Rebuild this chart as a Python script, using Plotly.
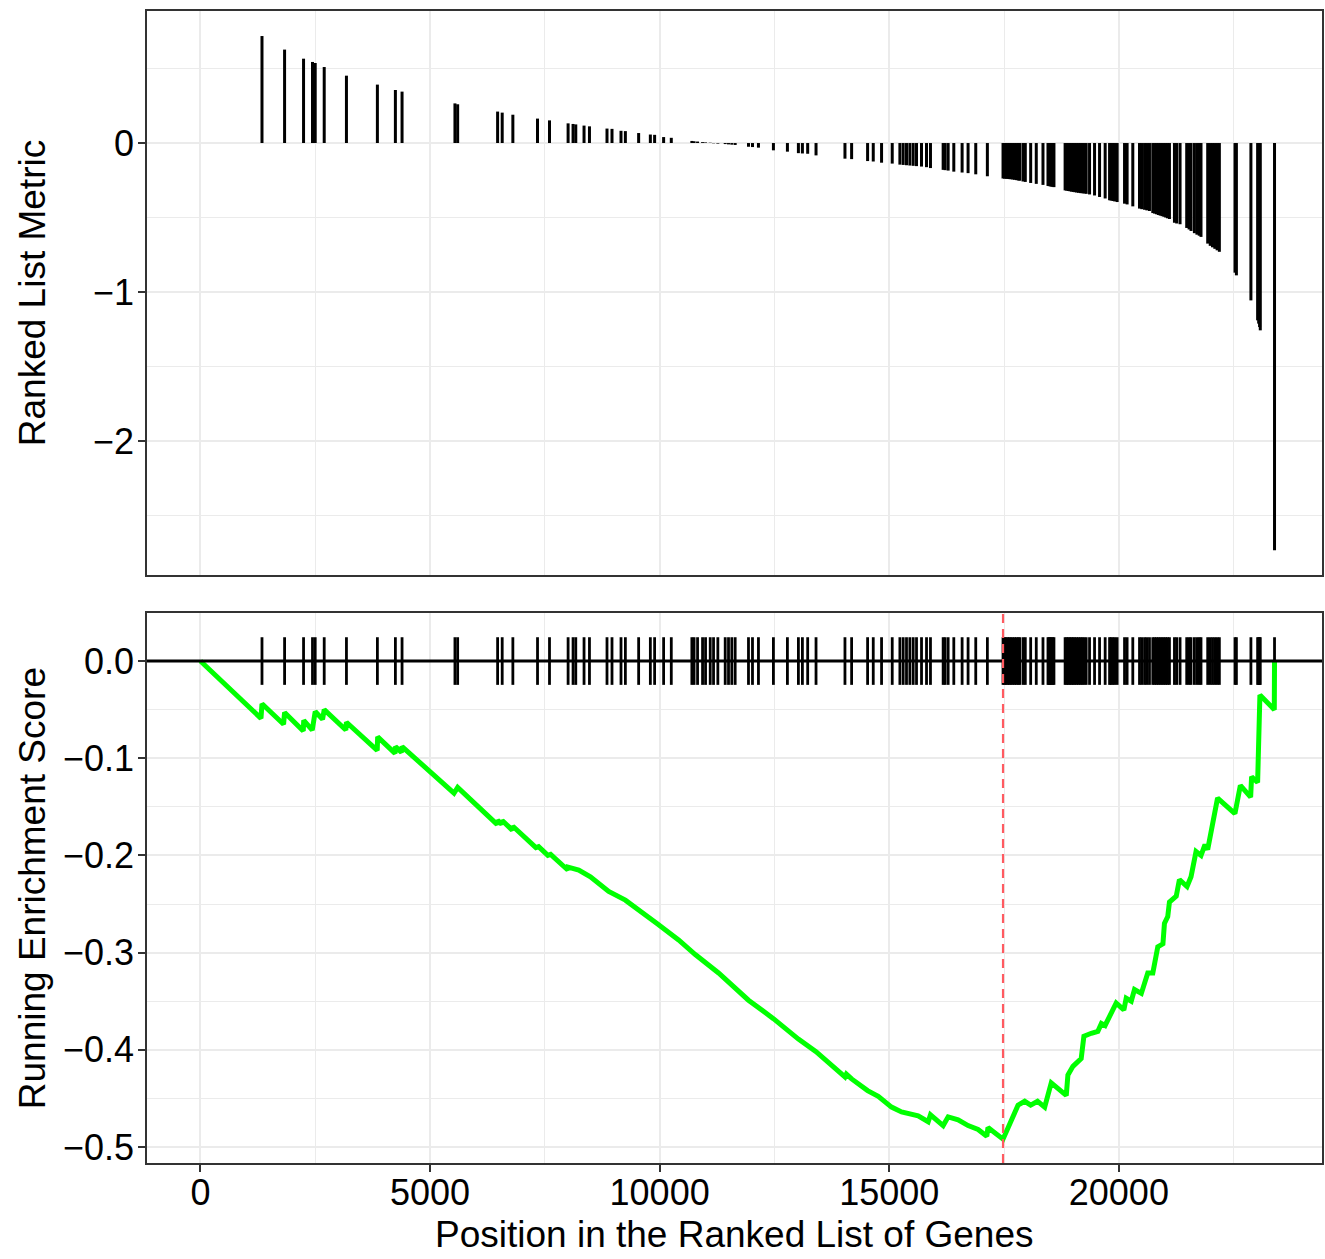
import plotly.graph_objects as go

# ---------------- data ----------------
hit_rank = [
    1341, 1833, 2246, 2441, 2500, 2696, 3180, 3854, 4246, 4391,
    5543, 5602, 6472, 6572, 6804, 7341, 7602, 8007, 8115, 8174,
    8354, 8472, 8854, 8963, 9159, 9254, 9543, 9798, 9891, 10087,
    10254, 10702, 10750, 10826, 10935, 11000, 11102, 11174, 11268, 11428,
    11500, 11572, 11645, 11935, 12022, 12152, 12478, 12783, 13022, 13109,
    13224, 13406, 14036, 14181, 14529, 14652, 14833, 15065, 15232, 15304,
    15376, 15449, 15522, 15594, 15703, 15812, 15898, 16174, 16217, 16283,
    16406, 16587, 16717, 16884, 17137,
    17478, 17510, 17545, 17580, 17615, 17650, 17690, 17730, 17770, 17810, 17841,
    17913, 17963, 18080, 18202, 18348,
    18457, 18480, 18505, 18530, 18560, 18587,
    18830, 18865, 18900, 18935, 18970, 19005, 19040, 19080, 19120, 19160, 19200, 19240, 19289,
    19362, 19471, 19580, 19702,
    19798, 19830, 19870, 19910, 19963,
    20124, 20180, 20304,
    20450, 20500, 20560, 20610, 20667,
    20739, 20780, 20820, 20860, 20900, 20940, 20980, 21020, 21060, 21102,
    21211, 21260, 21333,
    21478, 21530, 21572,
    21645, 21700, 21750, 21789,
    21935, 21990, 22040, 22090, 22140, 22189,
    22530, 22560,
    22876,
    23022, 23045, 23065, 23080,
    23390,
]
hit_metric = [
    0.718, 0.627, 0.566, 0.544, 0.537, 0.510, 0.452, 0.392, 0.356, 0.345,
    0.266, 0.260, 0.211, 0.204, 0.190, 0.164, 0.152, 0.132, 0.128, 0.125,
    0.117, 0.112, 0.097, 0.095, 0.082, 0.080, 0.067, 0.057, 0.055, 0.040,
    0.035, 0.014, 0.012, 0.010, 0.006, 0.004, 0.002, -0.002, -0.004, -0.007,
    -0.009, -0.011, -0.013, -0.025, -0.027, -0.031, -0.049, -0.058, -0.068, -0.070,
    -0.072, -0.083, -0.105, -0.108, -0.121, -0.124, -0.132, -0.138, -0.145, -0.147,
    -0.149, -0.151, -0.153, -0.155, -0.158, -0.162, -0.168, -0.180, -0.182, -0.185,
    -0.192, -0.198, -0.202, -0.210, -0.223,
    -0.238, -0.239, -0.240, -0.241, -0.242, -0.243, -0.245, -0.247, -0.249, -0.251, -0.253,
    -0.258, -0.261, -0.268, -0.274, -0.281,
    -0.288, -0.289, -0.291, -0.292, -0.294, -0.296,
    -0.318, -0.320, -0.322, -0.324, -0.326, -0.328, -0.330, -0.332, -0.334, -0.336, -0.337, -0.339, -0.341,
    -0.345, -0.352, -0.362, -0.372,
    -0.384, -0.386, -0.389, -0.392, -0.396,
    -0.407, -0.412, -0.425,
    -0.440, -0.444, -0.448, -0.452, -0.456,
    -0.470, -0.474, -0.478, -0.483, -0.487, -0.491, -0.495, -0.500, -0.505, -0.510,
    -0.535, -0.540, -0.545,
    -0.570, -0.580, -0.590,
    -0.605, -0.615, -0.622, -0.630,
    -0.675, -0.690, -0.700, -0.710, -0.720, -0.730,
    -0.870, -0.888,
    -1.056,
    -1.190, -1.212, -1.235, -1.257,
    -2.733,
]

es_rank = [
    0, 1319, 1341, 1811, 1833, 2240, 2250, 2435, 2500, 2660,
    2696, 3167, 3180, 3850, 3860, 4239, 4246, 4380, 4391, 5522,
    5602, 6460, 6472, 6560, 6572, 6790, 6804, 7330, 7341, 7590,
    7602, 8000, 8007, 8239, 8493, 8891, 9254, 9580, 9942, 10413,
    10776, 11283, 11935, 12478, 13022, 13406, 14036, 14066, 14181, 14529,
    14761, 15050, 15268, 15630, 15848, 15898, 16174, 16283, 16500, 16717,
    16935, 17125, 17150, 17478, 17623, 17804, 17950, 18080, 18230, 18385,
    18528, 18855, 18891, 19000, 19180, 19239, 19400, 19543, 19620, 19700,
    19942, 20109, 20160, 20270, 20341, 20490, 20630, 20740, 20848, 20960,
    20993, 21065, 21102, 21250, 21319, 21485, 21572, 21645, 21681, 21790,
    21876, 21935, 22007, 22080, 22150, 22528, 22646, 22870, 22891, 23022,
    23072, 23385, 23390,
]
es_score = [
    0.000, -0.059, -0.044, -0.065, -0.053, -0.072, -0.061, -0.071, -0.052, -0.060,
    -0.050, -0.071, -0.063, -0.092, -0.078, -0.095, -0.088, -0.094, -0.088, -0.136,
    -0.130, -0.168, -0.164, -0.168, -0.164, -0.174, -0.170, -0.193, -0.190, -0.201,
    -0.198, -0.215, -0.212, -0.215, -0.222, -0.237, -0.246, -0.258, -0.270, -0.287,
    -0.302, -0.321, -0.349, -0.368, -0.389, -0.402, -0.428, -0.425, -0.430, -0.442,
    -0.448, -0.459, -0.464, -0.468, -0.474, -0.467, -0.478, -0.469, -0.472, -0.478,
    -0.482, -0.489, -0.480, -0.492, -0.477, -0.457, -0.453, -0.457, -0.453, -0.459,
    -0.434, -0.447, -0.426, -0.417, -0.409, -0.386, -0.383, -0.381, -0.373, -0.375,
    -0.352, -0.359, -0.347, -0.350, -0.338, -0.342, -0.321, -0.321, -0.294, -0.291,
    -0.270, -0.263, -0.248, -0.242, -0.225, -0.232, -0.222, -0.208, -0.196, -0.200,
    -0.189, -0.194, -0.176, -0.153, -0.141, -0.157, -0.128, -0.140, -0.119, -0.125,
    -0.035, -0.050, 0.000,
]
peak_rank = 17478

x_tick_vals = [0, 5000, 10000, 15000, 20000]

# ---------------- style ----------------
x_range = [-1163, 24424]
metric_range = [-2.899, 0.886]
es_range = [-0.5165, 0.0494]
tick_half = 0.0245

FONT = "Liberation Sans, Arial, Helvetica, sans-serif"
GRID = "#EBEBEB"
BORDER = "#333333"

bar_x, bar_y = [], []
for r, m in zip(hit_rank, hit_metric):
    bar_x += [r, r, None]
    bar_y += [0, m, None]

tick_x, tick_y = [], []
for r in hit_rank:
    tick_x += [r, r, None]
    tick_y += [-tick_half, tick_half, None]

fig = go.Figure()
fig.add_trace(go.Scatter(x=bar_x, y=bar_y, mode="lines",
                         line=dict(color="black", width=3),
                         xaxis="x", yaxis="y", hoverinfo="skip", showlegend=False))
fig.add_trace(go.Scatter(x=tick_x, y=tick_y, mode="lines",
                         line=dict(color="black", width=2.8),
                         xaxis="x2", yaxis="y2", hoverinfo="skip", showlegend=False))
fig.add_trace(go.Scatter(x=es_rank, y=es_score, mode="lines",
                         line=dict(color="#00FF00", width=5),
                         xaxis="x2", yaxis="y2", showlegend=False))

common_axis = dict(showline=True, mirror=True, linecolor=BORDER, linewidth=1.6,
                   zeroline=False, showgrid=True, gridcolor=GRID, gridwidth=2)

fig.update_layout(
    width=1325, height=1259,
    margin=dict(l=147, r=1, t=11, b=96),
    paper_bgcolor="white", plot_bgcolor="white",
    font=dict(family=FONT, size=36, color="black"),
    showlegend=False,
    xaxis=dict(domain=[0, 1], anchor="y", range=x_range, matches="x2",
               tickmode="array", tickvals=x_tick_vals, showticklabels=False, ticks="",
               minor=dict(dtick=2500, tick0=0, showgrid=True, gridcolor=GRID, gridwidth=1.2),
               **common_axis),
    yaxis=dict(domain=[0.5104, 1], anchor="x", range=metric_range,
               tick0=0, dtick=1, ticks="outside", ticklen=7, tickwidth=1.6, tickcolor=BORDER,
               ticklabelstandoff=-3,
               minor=dict(dtick=0.5, tick0=0, showgrid=True, gridcolor=GRID, gridwidth=1.2),
               **common_axis),
    xaxis2=dict(domain=[0, 1], anchor="y2", range=x_range,
                tickmode="array", tickvals=x_tick_vals, tickformat="d",
                ticks="outside", ticklen=7, tickwidth=1.6, tickcolor=BORDER,
                ticklabelstandoff=-10,
                minor=dict(dtick=2500, tick0=0, showgrid=True, gridcolor=GRID, gridwidth=1.2),
                **common_axis),
    yaxis2=dict(domain=[0, 0.4774], anchor="x2", range=es_range,
                tick0=0, dtick=0.1, tickformat=".1f",
                ticks="outside", ticklen=7, tickwidth=1.6, tickcolor=BORDER,
                ticklabelstandoff=-3,
                minor=dict(dtick=0.05, tick0=0, showgrid=True, gridcolor=GRID, gridwidth=1.2),
                **common_axis),
)

# zero reference line in the running-score panel
fig.add_shape(type="line", xref="x2 domain", yref="y2", x0=0, x1=1, y0=0, y1=0,
              line=dict(color="black", width=3), layer="above")
# dashed line at the position of the maximum deviation
fig.add_shape(type="line", xref="x2", yref="y2 domain", x0=peak_rank, x1=peak_rank, y0=0, y1=1,
              line=dict(color="#FF5A60", width=2.2, dash="9px,6px"), layer="above")

# axis titles
fig.add_annotation(text="Ranked List Metric", xref="paper", yref="paper",
                   x=(32 - 147) / 1177, y=(0.5104 + 1) / 2, textangle=-90,
                   showarrow=False, xanchor="center", yanchor="middle",
                   font=dict(family=FONT, size=37, color="black"))
fig.add_annotation(text="Running Enrichment Score", xref="paper", yref="paper",
                   x=(32 - 147) / 1177, y=0.4774 / 2, textangle=-90,
                   showarrow=False, xanchor="center", yanchor="middle",
                   font=dict(family=FONT, size=37, color="black"))
fig.add_annotation(text="Position in the Ranked List of Genes", xref="paper", yref="paper",
                   x=0.5, y=(1163 - 1234) / 1152,
                   showarrow=False, xanchor="center", yanchor="middle",
                   font=dict(family=FONT, size=37, color="black"))

fig.write_html("out.html")
